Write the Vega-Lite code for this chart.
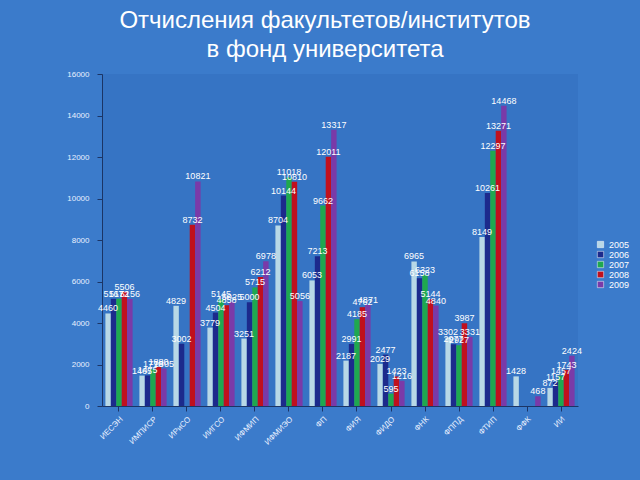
{
  "$schema": "https://vega.github.io/schema/vega-lite/v6.json",
  "width": 476,
  "height": 332,
  "autosize": "none",
  "padding": {"left": 102, "top": 74, "right": 62, "bottom": 74},
  "background": "#3b7bcb",
  "config": {"view": {"stroke": null, "fill": "#3674c4"}, "font": "Liberation Sans"},
  "title": {
    "text": ["Отчисления факультетов/институтов", "в фонд университета"],
    "color": "#ffffff",
    "fontSize": 24,
    "fontWeight": "normal",
    "font": "Liberation Sans",
    "anchor": "middle",
    "dx": -15,
    "offset": 8,
    "lineHeight": 29
  },
  "data": {
    "values": [
      {"f": "ИЕСЭН", "y": "2005", "v": 4460}, {"f": "ИЕСЭН", "y": "2006", "v": 5167}, {"f": "ИЕСЭН", "y": "2007", "v": 5172}, {"f": "ИЕСЭН", "y": "2008", "v": 5506}, {"f": "ИЕСЭН", "y": "2009", "v": 5156},
      {"f": "ИМПИСР", "y": "2005", "v": 1465}, {"f": "ИМПИСР", "y": "2006", "v": 1475}, {"f": "ИМПИСР", "y": "2007", "v": 1770}, {"f": "ИМПИСР", "y": "2008", "v": 1880}, {"f": "ИМПИСР", "y": "2009", "v": 1805},
      {"f": "ИРиСО", "y": "2005", "v": 4829}, {"f": "ИРиСО", "y": "2006", "v": 3002}, {"f": "ИРиСО", "y": "2008", "v": 8732}, {"f": "ИРиСО", "y": "2009", "v": 10821},
      {"f": "ИИГСО", "y": "2005", "v": 3779}, {"f": "ИИГСО", "y": "2006", "v": 4504}, {"f": "ИИГСО", "y": "2007", "v": 5145}, {"f": "ИИГСО", "y": "2008", "v": 4858}, {"f": "ИИГСО", "y": "2009", "v": 5025},
      {"f": "ИФМИП", "y": "2005", "v": 3251}, {"f": "ИФМИП", "y": "2006", "v": 5000}, {"f": "ИФМИП", "y": "2007", "v": 5715}, {"f": "ИФМИП", "y": "2008", "v": 6212}, {"f": "ИФМИП", "y": "2009", "v": 6978},
      {"f": "ИФМИЭО", "y": "2005", "v": 8704}, {"f": "ИФМИЭО", "y": "2006", "v": 10144}, {"f": "ИФМИЭО", "y": "2007", "v": 11018}, {"f": "ИФМИЭО", "y": "2008", "v": 10810}, {"f": "ИФМИЭО", "y": "2009", "v": 5056},
      {"f": "ФП", "y": "2005", "v": 6053}, {"f": "ФП", "y": "2006", "v": 7213}, {"f": "ФП", "y": "2007", "v": 9662}, {"f": "ФП", "y": "2008", "v": 12011}, {"f": "ФП", "y": "2009", "v": 13317},
      {"f": "ФИЯ", "y": "2005", "v": 2187}, {"f": "ФИЯ", "y": "2006", "v": 2991}, {"f": "ФИЯ", "y": "2007", "v": 4185}, {"f": "ФИЯ", "y": "2008", "v": 4762}, {"f": "ФИЯ", "y": "2009", "v": 4871},
      {"f": "ФИДО", "y": "2005", "v": 2029}, {"f": "ФИДО", "y": "2006", "v": 2477}, {"f": "ФИДО", "y": "2007", "v": 595}, {"f": "ФИДО", "y": "2008", "v": 1423}, {"f": "ФИДО", "y": "2009", "v": 1216},
      {"f": "ФНК", "y": "2005", "v": 6965}, {"f": "ФНК", "y": "2006", "v": 6158}, {"f": "ФНК", "y": "2007", "v": 6323}, {"f": "ФНК", "y": "2008", "v": 5144}, {"f": "ФНК", "y": "2009", "v": 4840},
      {"f": "ФППД", "y": "2005", "v": 3302}, {"f": "ФППД", "y": "2006", "v": 2977}, {"f": "ФППД", "y": "2007", "v": 2927}, {"f": "ФППД", "y": "2008", "v": 3987}, {"f": "ФППД", "y": "2009", "v": 3331},
      {"f": "ФТИП", "y": "2005", "v": 8149}, {"f": "ФТИП", "y": "2006", "v": 10261}, {"f": "ФТИП", "y": "2007", "v": 12297}, {"f": "ФТИП", "y": "2008", "v": 13271}, {"f": "ФТИП", "y": "2009", "v": 14468},
      {"f": "ФФК", "y": "2005", "v": 1428}, {"f": "ФФК", "y": "2009", "v": 468},
      {"f": "ИИ", "y": "2005", "v": 872}, {"f": "ИИ", "y": "2006", "v": 1157}, {"f": "ИИ", "y": "2007", "v": 1457}, {"f": "ИИ", "y": "2008", "v": 1743}, {"f": "ИИ", "y": "2009", "v": 2424}
    ]
  },
  "encoding": {
    "x": {
      "field": "f", "type": "nominal", "sort": null, "title": null,
      "scale": {"paddingInner": 0.2, "paddingOuter": 0.1},
      "axis": {"labelAngle": -45, "labelAlign": "right", "labelBaseline": "top", "labelColor": "#e8f0ff", "labelFontSize": 8, "domainColor": "#1b3566", "tickColor": "#1b3566", "labelPadding": 4}
    },
    "xOffset": {"field": "y", "type": "nominal", "scale": {"paddingInner": 0}},
    "y": {
      "field": "v", "type": "quantitative", "title": null,
      "scale": {"domain": [0, 16000], "nice": false},
      "axis": {"values": [0, 2000, 4000, 6000, 8000, 10000, 12000, 14000, 16000], "format": "d", "grid": false, "labelColor": "#e8f0ff", "labelFontSize": 8, "domainColor": "#1b3566", "tickColor": "#1b3566", "labelPadding": 8}
    },
    "color": {
      "field": "y", "type": "nominal", "title": null,
      "scale": {"domain": ["2005", "2006", "2007", "2008", "2009"], "range": ["#b8d8e6", "#1c2a8c", "#1fa84f", "#c0101e", "#7a3aa8"]},
      "legend": {"orient": "none", "legendX": 494, "legendY": 166, "symbolType": "square", "symbolSize": 40, "labelColor": "#ffffff", "labelFontSize": 9, "rowPadding": 0, "symbolStrokeColor": "#ffffff", "symbolStrokeWidth": 0.5}
    }
  },
  "layer": [
    {"mark": {"type": "bar"}},
    {"mark": {"type": "text", "dy": -5, "fontSize": 9, "color": "#ffffff"}, "encoding": {"text": {"field": "v", "type": "quantitative", "format": "d"}, "color": {"value": "#ffffff"}}}
  ]
}
